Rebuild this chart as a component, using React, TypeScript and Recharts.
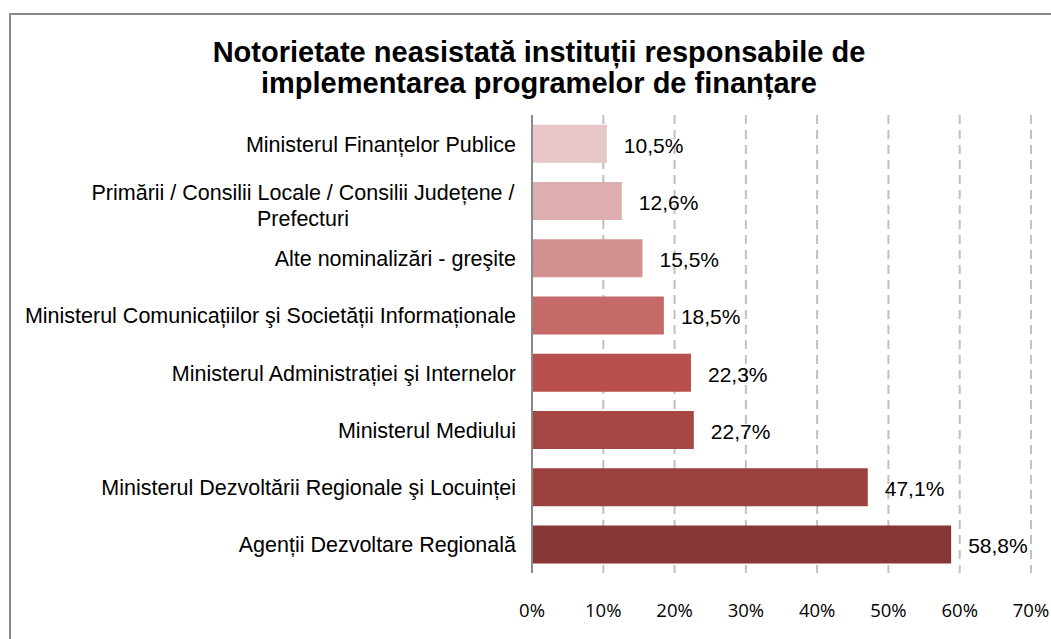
import { BarChart, Bar, XAxis, YAxis, CartesianGrid, Cell, LabelList } from "recharts";

const categories = [
  ["Ministerul Finanțelor Publice"],
  ["Primării / Consilii Locale / Consilii Județene /", "Prefecturi"],
  ["Alte nominalizări - greşite"],
  ["Ministerul Comunicațiilor şi Societății Informaționale"],
  ["Ministerul Administrației şi Internelor"],
  ["Ministerul Mediului"],
  ["Ministerul Dezvoltării Regionale şi Locuinței"],
  ["Agenții Dezvoltare Regională"],
];
const values = [10.5, 12.6, 15.5, 18.5, 22.3, 22.7, 47.1, 58.8];
const xTicks = [0, 10, 20, 30, 40, 50, 60, 70];
const barColors = ["#e6c6c8", "#dcaeb0", "#d3908f", "#c56a68", "#b94f4d", "#a64644", "#9c403e", "#873535"];

const data = categories.map((lines, i) => ({ name: lines.join(" "), lines, value: values[i] }));

const FONT = "'Liberation Sans', Arial, sans-serif";

function CategoryTick(props: any) {
  const { y, payload } = props;
  const row = data[payload.index] || data.find((d) => d.name === payload.value);
  const lines = row ? row.lines : [payload.value];
  if (lines.length > 1) {
    return (
      <text x={303} y={y - 1} textAnchor="middle" fontFamily={FONT} fontSize={21.5} fill="#000">
        <tspan x={303} dy={0}>{lines[0]}</tspan>
        <tspan x={303} dy={26}>{lines[1]}</tspan>
      </text>
    );
  }
  return (
    <text x={516} y={y + 8} textAnchor="end" fontFamily={FONT} fontSize={21.5} fill="#000">
      {lines[0]}
    </text>
  );
}

function PercentTick(props: any) {
  const { x, y, payload } = props;
  return (
    <text x={x} y={y + 44} textAnchor="middle" fontFamily="'Open Sans', sans-serif" fontSize={18.5} fill="#000">
      {payload.value}%
    </text>
  );
}

function ValueLabel(props: any) {
  const { x, y, width, height, value } = props;
  return (
    <text x={x + width + 17} y={y + height / 2 + 9} fontFamily={FONT} fontSize={21} fill="#000">
      {String(value.toFixed(1)).replace(".", ",")}%
    </text>
  );
}

export default function App() {
  return (
    <div style={{ position: "fixed", left: 0, top: 0, width: 1051, height: 639, overflow: "hidden", background: "#fff" }}>
      <div
        style={{
          position: "absolute",
          left: 9,
          top: 13,
          width: 1200,
          height: 800,
          borderTop: "2px solid #8a8a8a",
          borderLeft: "2px solid #8a8a8a",
        }}
      />
      <div
        style={{
          position: "absolute",
          left: 539 - 450,
          top: 37,
          width: 900,
          textAlign: "center",
          fontFamily: FONT,
          fontWeight: "bold",
          fontSize: 29,
          lineHeight: "31px",
          color: "#000",
        }}
      >
        Notorietate neasistată instituții responsabile de
        <br />
        implementarea programelor de finanțare
      </div>
      <div style={{ position: "absolute", left: 0, top: 0 }}>
        <BarChart
          width={1051}
          height={639}
          data={data}
          layout="vertical"
          margin={{ top: 115, right: 20, bottom: 0, left: 0 }}
          barCategoryGap="17%"
        >
          <CartesianGrid horizontal={false} stroke="#c0c0c0" strokeWidth={2} strokeDasharray="9 6" />
          <XAxis
            type="number"
            domain={[0, 70]}
            ticks={xTicks}
            height={66}
            axisLine={false}
            tickLine={false}
            tickSize={0}
            tickMargin={0}
            tick={<PercentTick />}
          />
          <YAxis
            type="category"
            dataKey="name"
            width={532}
            axisLine={{ stroke: "#8a8a8a", strokeWidth: 2 }}
            tickLine={false}
            interval={0}
            tick={<CategoryTick />}
          />
          <Bar dataKey="value" isAnimationActive={false}>
            {data.map((_, i) => (
              <Cell key={`cell-${i}`} fill={barColors[i]} />
            ))}
            <LabelList dataKey="value" content={<ValueLabel />} />
          </Bar>
        </BarChart>
      </div>
    </div>
  );
}
